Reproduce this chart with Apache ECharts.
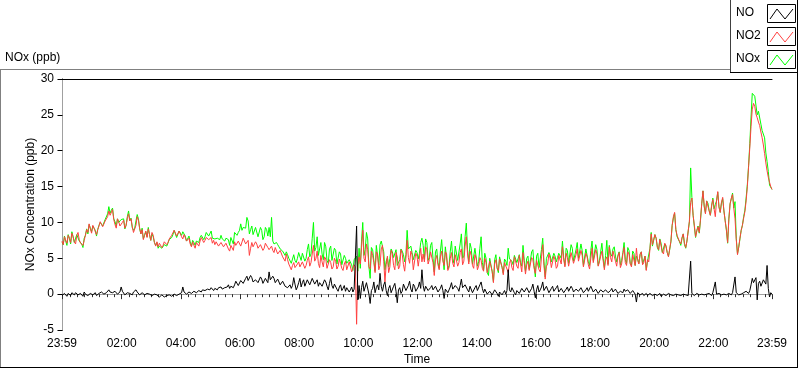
<!DOCTYPE html>
<html><head><meta charset="utf-8">
<script src="https://cdn.jsdelivr.net/npm/echarts@6/dist/echarts.min.js"></script>
<style>html,body{margin:0;padding:0;background:#fff;}#c{width:800px;height:369px;}</style>
</head><body><div id="c"></div>
<script>
// sampling grid: minutes after midnight, starting 23:59 of previous day, every 2.5 min
const START_MIN = -1, STEP_MIN = 2.5;

const NO = [
-0.2,0.0,0.1,-0.1,-0.3,0.1,0.0,-0.2,0.2,0.0,-0.1,0.2,0.1,-0.1,-0.2,0.1,0.0,-0.3,0.3,0.0,
0.1,-0.2,-0.1,0.1,0.2,-0.1,0.0,0.2,-0.2,0.0,0.1,-0.1,0.3,0.1,0.0,0.2,0.2,0.4,0.6,0.3,
0.5,0.2,0.1,0.4,0.3,0.0,-0.1,0.3,1.0,0.4,0.2,-0.1,0.0,0.2,0.4,0.1,0.1,-0.1,0.3,0.1,
0.6,0.3,0.2,-0.1,0.0,0.2,0.1,-0.1,-0.1,0.1,0.2,0.0,0.0,-0.2,-0.2,0.0,0.1,-0.1,-0.2,-0.4,
-0.3,-0.1,-0.2,-0.4,-0.4,-0.2,-0.3,-0.1,-0.2,-0.3,-0.1,0.0,0.0,-0.2,-0.2,0.0,0.1,0.2,1.0,0.3,
0.2,0.0,0.1,0.3,0.3,0.1,0.2,0.4,0.4,0.2,0.2,0.5,0.5,0.3,0.6,0.4,0.5,0.7,0.7,0.5,
0.6,0.9,0.7,0.5,0.8,0.6,0.6,0.9,0.8,1.0,0.7,0.9,0.9,0.7,1.0,1.3,0.8,1.1,1.2,0.9,
1.3,1.8,1.6,1.2,1.4,1.9,2.0,1.5,1.7,2.2,2.5,1.9,1.8,2.6,2.3,1.7,1.6,2.0,2.2,1.6,
1.7,2.4,2.1,1.5,1.6,2.2,2.0,1.6,3.1,2.0,1.8,2.5,2.2,1.6,1.5,2.1,1.9,1.3,1.4,1.8,
1.6,1.1,1.2,0.9,1.0,1.3,0.8,1.2,2.3,1.4,0.6,1.0,1.6,2.2,1.0,1.6,2.0,1.1,1.3,2.0,
1.8,1.3,1.2,2.2,2.1,1.4,1.5,2.0,1.1,1.6,1.8,1.1,1.0,2.0,1.7,1.1,0.6,1.5,2.3,1.2,
0.8,1.4,1.5,0.7,0.4,1.0,1.3,0.5,0.8,1.2,0.4,0.9,1.1,0.3,0.6,1.0,0.3,0.7,0.9,9.5,
-0.8,1.2,-0.6,0.9,1.8,0.4,0.2,1.6,1.5,0.0,-1.3,0.5,0.8,1.7,0.2,0.9,1.3,0.6,2.9,1.1,
0.4,1.3,1.7,0.5,-0.2,0.8,1.2,0.2,0.3,1.1,1.5,0.4,-1.2,0.6,0.9,0.1,0.4,1.4,1.3,0.5,
0.6,1.2,1.8,0.7,0.3,1.4,1.1,0.4,0.5,1.0,1.7,0.8,3.4,1.2,0.4,1.1,1.0,0.5,0.3,0.9,
1.2,0.6,0.5,1.1,0.9,0.3,0.2,0.8,1.3,0.5,-0.6,0.7,0.8,0.2,0.3,1.0,1.6,0.7,0.5,1.2,
1.4,0.8,0.4,1.2,2.1,0.9,0.7,1.3,1.5,0.6,0.3,1.1,1.0,0.2,0.4,0.9,1.2,0.5,0.6,1.3,
1.7,0.8,0.2,0.7,0.6,0.0,-0.2,0.4,0.5,-0.1,0.1,0.6,0.7,0.1,-0.3,0.3,0.4,-0.1,0.2,0.5,
0.0,0.5,3.4,0.6,0.3,0.9,0.8,0.2,-0.1,0.5,0.6,0.1,0.2,0.8,1.0,0.3,0.4,0.9,0.7,0.2,
0.3,0.8,1.4,0.4,-0.5,0.6,1.2,0.3,0.6,1.0,1.7,0.5,0.3,1.1,0.9,0.2,0.4,0.8,1.1,0.4,
0.5,0.9,1.2,0.3,0.4,0.8,0.9,0.2,0.2,0.7,1.0,0.4,0.5,1.1,0.8,0.3,0.3,0.7,0.9,0.4,
0.4,0.9,0.7,0.2,0.2,0.6,0.9,0.4,0.5,1.1,1.0,0.3,0.3,0.7,0.6,0.1,0.2,0.6,0.8,0.3,
0.3,0.6,0.7,0.2,0.2,0.5,0.8,0.3,0.4,0.7,0.6,0.1,0.1,0.4,0.5,0.2,0.7,0.4,0.3,0.6,
0.5,0.1,0.2,0.5,0.4,0.0,-1.1,0.2,0.1,-0.1,0.0,0.1,-0.2,0.0,0.1,-0.2,-0.1,0.1,0.0,-0.2,
-0.2,0.0,0.0,-0.2,-0.1,0.1,-0.3,-0.1,0.0,-0.2,-0.2,0.0,0.1,-0.1,-0.1,0.0,-0.2,-0.1,0.0,-0.2,
-0.1,0.0,-0.2,-0.1,0.0,-0.2,-0.1,0.0,-0.2,-0.1,4.6,0.1,0.0,-0.2,-0.1,0.1,0.1,-0.1,-0.2,0.0,
0.0,-0.1,0.1,0.0,-0.1,0.1,0.0,-0.2,0.2,0.0,1.7,0.0,-0.1,0.1,0.0,-0.1,-0.2,0.0,0.1,-0.1,
-0.1,0.1,0.0,-0.1,0.2,0.0,2.4,0.2,0.1,-0.1,-0.1,0.0,0.0,0.2,0.2,0.4,0.3,0.1,0.5,1.3,
2.2,1.6,1.4,2.3,-0.8,1.5,1.8,1.1,1.0,2.0,2.2,1.4,4.0,0.8,-0.4,0.2,0.0
];

const NO2 = [
7.4,6.9,8.0,7.5,7.1,8.2,7.8,7.2,8.5,8.0,7.3,7.0,8.2,8.6,7.6,7.1,7.0,6.8,7.5,8.2,
9.0,8.6,9.8,9.1,8.5,9.6,9.2,8.7,8.3,9.0,9.5,10.1,9.9,9.4,9.3,10.2,10.0,10.8,11.6,11.0,
11.2,11.8,10.4,9.7,9.2,10.5,10.1,9.5,9.4,10.0,10.3,9.2,9.6,10.6,11.2,10.2,10.5,9.4,8.6,9.1,
9.6,10.8,10.3,9.2,8.4,9.0,7.6,8.3,8.8,7.9,9.1,8.3,7.5,8.6,8.2,7.2,6.7,7.3,6.6,7.1,
7.0,6.5,6.8,7.3,7.5,6.9,7.2,7.7,7.8,8.2,8.4,8.9,8.7,8.1,8.3,8.8,8.6,8.0,7.7,8.3,
7.9,7.4,7.3,7.8,7.0,6.6,7.3,6.8,6.4,7.2,7.0,6.7,7.4,7.9,7.8,7.2,7.5,7.9,8.1,7.6,
7.6,7.9,7.1,7.5,6.9,7.3,7.2,6.7,6.8,7.2,7.0,6.6,6.5,7.1,6.9,6.3,6.0,6.8,6.6,6.1,
7.3,6.8,6.6,7.4,7.5,6.7,6.9,7.8,7.6,7.0,6.8,7.5,5.4,6.4,7.2,6.6,6.5,7.3,7.0,6.4,
6.2,6.9,6.8,6.1,6.4,7.1,7.0,6.5,6.2,6.0,6.7,6.1,5.8,6.5,6.3,5.6,5.5,6.1,5.9,5.2,
5.0,4.6,5.6,4.8,4.2,3.8,3.4,4.0,4.4,3.7,3.6,4.2,4.5,3.8,3.9,4.5,4.6,3.6,4.0,4.7,
5.2,3.9,4.4,5.6,6.8,4.6,5.0,6.0,4.3,3.7,5.4,4.5,3.8,5.2,4.9,3.6,3.7,4.8,4.4,3.5,
3.8,5.0,4.6,3.5,3.9,4.9,4.3,3.6,3.3,4.2,4.6,3.4,3.2,4.5,4.4,3.1,3.0,4.1,3.8,-4.2,
4.0,5.2,4.2,6.5,8.9,5.0,4.5,7.0,6.2,3.8,3.5,6.0,5.4,4.4,3.0,5.9,5.6,3.4,4.0,6.3,
6.8,4.6,1.7,4.1,5.3,3.0,3.8,6.1,5.6,4.0,3.4,5.8,5.2,3.5,3.9,6.2,5.6,4.1,3.2,5.0,
7.5,5.1,4.3,6.0,5.5,3.4,3.6,5.7,5.3,3.9,4.0,6.4,4.5,5.6,4.5,6.6,6.2,4.2,4.8,5.9,
6.0,4.4,2.6,4.8,5.4,4.1,3.4,5.2,6.0,4.6,4.0,5.9,5.6,3.3,3.7,5.0,5.8,4.3,3.8,5.5,
5.3,3.9,4.4,5.8,6.3,4.1,4.6,6.7,8.0,5.6,4.2,6.0,5.4,4.0,3.6,5.5,5.0,3.4,3.9,5.1,
4.7,3.6,3.2,5.0,4.4,3.0,2.8,4.6,4.5,3.2,1.6,4.2,4.8,3.6,3.3,4.9,5.0,3.8,2.7,4.4,
4.6,3.5,3.0,4.3,4.8,3.7,3.3,5.2,5.0,3.9,3.6,5.4,4.2,3.1,5.8,4.4,2.8,4.1,4.6,3.3,
3.4,5.1,4.8,3.6,2.9,4.7,4.5,3.4,3.1,5.2,6.9,4.0,2.1,3.9,4.2,5.6,5.0,3.7,3.6,5.3,
4.8,3.6,3.9,5.4,5.5,4.2,6.6,4.9,3.8,5.7,5.1,3.9,4.0,5.8,5.6,4.3,4.2,5.5,6.3,4.6,
4.4,6.1,5.4,3.8,4.0,5.7,5.2,4.1,3.5,5.0,6.4,4.4,4.2,6.2,5.6,3.9,4.5,5.3,6.0,4.7,
3.4,4.8,5.2,4.0,6.6,5.1,4.5,6.0,6.2,4.6,3.9,5.3,5.8,3.7,4.2,5.6,6.5,4.4,4.0,5.9,
5.6,4.2,3.8,5.5,5.3,4.0,6.4,4.7,4.2,5.6,5.9,4.1,4.4,5.3,3.3,4.8,4.5,6.3,8.4,6.9,
7.0,8.3,7.8,6.6,6.2,7.6,7.4,5.9,5.6,7.1,6.8,5.8,5.2,6.3,7.4,9.6,10.8,11.4,9.0,8.2,
8.1,7.3,7.0,7.9,8.4,7.1,6.5,7.4,7.6,10.2,12.8,13.4,11.0,9.6,8.0,8.8,9.4,8.6,10.5,12.6,
14.4,12.3,11.2,13.0,12.8,11.6,11.0,12.4,13.2,11.9,10.8,13.0,14.3,12.1,11.4,12.8,13.5,11.6,10.2,9.0,
7.2,10.4,12.6,13.4,13.9,12.0,10.5,7.6,5.5,6.6,7.8,8.9,9.6,10.6,11.5,13.0,15.0,17.8,20.5,23.4,
25.8,26.6,26.2,25.1,24.6,24.0,23.5,22.6,21.8,20.8,19.6,18.3,17.2,16.3,15.6,15.0,14.6
];

const NOX = [
7.2,6.9,8.1,7.4,6.8,8.3,7.8,7.0,8.7,8.0,7.2,7.2,8.3,8.5,7.4,7.2,7.0,6.5,7.8,8.2,
9.1,8.4,9.7,9.2,8.7,9.5,9.2,8.9,8.1,9.0,9.6,10.0,10.2,9.5,9.3,10.4,10.2,11.2,12.2,11.3,
11.7,12.0,10.5,10.1,9.5,10.5,10.0,9.8,10.4,10.4,10.5,9.1,9.6,10.8,11.6,10.3,10.6,9.3,8.9,9.2,
10.2,11.1,10.5,9.1,8.4,9.2,7.7,8.2,8.7,8.0,9.3,8.3,7.5,8.4,8.0,7.2,6.8,7.2,6.4,6.7,
6.7,6.4,6.6,6.9,7.1,6.7,6.9,7.6,7.6,7.9,8.3,8.9,8.7,7.9,8.1,8.8,9.0,8.2,8.7,8.6,
8.1,7.4,7.4,8.1,7.3,6.7,7.5,7.2,6.8,7.4,7.2,7.2,7.9,8.2,8.4,7.6,8.0,8.6,8.8,8.1,
8.2,8.8,7.8,8.0,7.7,7.9,7.8,7.6,7.6,8.2,7.7,7.5,7.4,7.8,7.9,7.6,6.8,7.9,7.8,7.0,
8.6,8.6,8.2,8.6,8.9,9.8,8.9,9.3,9.3,9.2,10.7,10.2,8.4,9.0,9.5,8.3,8.1,9.3,9.2,8.0,
7.9,9.3,8.9,7.6,8.0,9.3,9.0,8.1,9.3,8.0,10.7,7.4,7.0,6.8,7.2,6.9,6.6,6.3,6.5,6.0,
6.0,5.4,5.9,5.5,5.0,4.8,4.3,4.9,5.5,4.7,4.4,5.0,5.8,5.6,4.7,5.7,5.6,4.6,5.0,6.2,
7.0,5.2,5.6,7.8,10.0,6.0,6.5,8.0,5.4,5.3,7.2,5.6,4.8,7.2,6.6,4.7,4.3,6.3,6.7,4.7,
4.6,6.4,6.1,4.2,4.3,5.9,5.6,4.1,4.1,5.4,5.0,4.3,4.3,4.8,5.0,4.1,3.3,4.8,4.7,5.3,
3.2,6.4,3.6,7.4,10.0,5.4,6.2,8.6,7.7,3.8,2.2,6.5,6.2,6.1,3.2,6.8,6.9,4.0,6.9,7.4,
7.2,5.9,3.4,4.6,5.1,3.8,5.0,6.3,5.9,5.1,4.9,6.2,4.0,4.1,4.8,6.3,6.0,5.5,4.5,5.5,
8.9,6.3,6.1,6.7,5.8,4.8,4.7,6.1,5.8,4.9,5.7,7.2,7.8,6.8,4.9,7.7,7.2,4.7,5.1,6.8,
7.2,5.0,3.1,5.9,6.3,4.4,3.6,6.0,7.6,5.1,3.4,6.6,6.4,3.5,4.0,6.0,7.4,5.0,4.3,6.7,
6.7,4.7,4.8,7.0,8.4,5.0,5.3,8.0,9.9,6.2,4.5,7.1,6.4,4.2,4.0,6.4,6.2,3.9,4.5,6.4,
8.0,4.4,3.4,5.7,5.0,3.0,2.6,5.0,5.0,3.1,1.7,4.8,5.5,3.7,3.0,5.2,5.4,3.7,2.9,4.9,
4.6,4.0,6.4,4.9,5.1,4.6,4.1,5.4,4.9,4.4,4.2,5.5,4.4,3.9,6.8,4.7,3.2,5.0,5.3,3.5,
3.7,5.9,6.2,4.0,2.4,5.3,5.7,3.7,3.7,6.2,7.8,4.5,2.4,5.0,5.1,5.8,5.4,4.5,4.7,5.7,
5.3,4.5,5.1,5.7,5.9,5.0,7.4,5.1,4.0,6.4,6.1,4.3,4.5,6.9,6.4,4.6,4.5,6.2,7.2,5.0,
4.8,7.0,6.1,4.0,4.2,6.3,6.1,4.5,4.0,6.1,7.4,4.7,4.5,6.9,6.2,4.0,4.7,5.9,7.1,5.0,
3.7,5.4,7.5,4.2,6.8,5.6,5.3,6.3,6.6,5.3,4.5,5.4,5.9,4.1,4.7,5.8,7.2,4.8,4.3,6.5,
6.1,4.3,4.0,6.0,5.7,4.0,5.3,4.9,4.3,5.5,5.9,4.2,4.2,5.3,3.4,4.6,4.4,6.4,8.6,6.7,
6.8,8.3,7.8,6.5,6.1,7.7,7.1,5.8,5.6,7.0,6.6,5.8,5.3,6.2,7.3,9.6,10.6,11.3,9.0,8.0,
8.0,7.3,6.8,7.8,8.4,6.9,6.4,7.4,7.4,10.1,17.6,13.5,11.0,9.4,7.9,8.9,9.5,8.5,10.3,12.6,
14.4,12.2,11.3,13.0,12.7,11.7,11.0,12.2,13.4,11.9,12.5,13.0,14.2,12.2,11.4,12.7,13.3,11.6,10.3,8.9,
7.1,10.5,12.6,13.3,14.1,12.0,12.9,7.8,5.6,6.5,7.7,8.9,9.6,10.8,11.7,13.4,15.3,17.9,21.0,24.7,
28.0,28.2,27.6,27.4,25.0,25.5,25.3,23.7,22.8,22.8,21.8,19.7,18.5,17.1,15.2,15.2,14.6
];

const TICK_MIN = [-1,120,240,360,480,600,720,840,960,1080,1200,1320,1439];
const TICK_LABELS = ['23:59','02:00','04:00','06:00','08:00','10:00','12:00','14:00','16:00','18:00','20:00','22:00','23:59'];
const MINOR_MIN = [];
for (let m = 15; m < 1439; m += 15) MINOR_MIN.push(m);

const SERIES_NAMES = ['NO','NO2','NOx'];
const SERIES_COLORS = ['#000000','#ff4040','#00ff00'];

const toPts = arr => arr.map((v,i) => [START_MIN + STEP_MIN*i, v]);
const FONT = 'Liberation Sans';

const chart = echarts.init(document.getElementById('c'), null, {renderer:'canvas'});

function legendGraphics(){
  const g = [];
  const boxTops = [4, 27, 50];
  SERIES_NAMES.forEach((n,i)=>{
    const y0 = boxTops[i];
    g.push({type:'text', left:736, top:y0+3, style:{text:n, font:'12px '+FONT, fill:'#000'}});
    g.push({type:'rect', shape:{x:767.5,y:y0+0.5,width:28,height:18}, style:{fill:'#fff', stroke:'#000', lineWidth:1}});
    g.push({type:'polyline', shape:{points:[[770,y0+15],[777,y0+5],[785,y0+15],[793,y0+5]]}, style:{stroke:SERIES_COLORS[i], lineWidth:1, fill:null}});
  });
  return g;
}

const option = {
  animation:false,
  backgroundColor:'#fff',
  grid:{left:62, right:28, top:79, bottom:39, containLabel:false, outerBoundsMode:'none'},
  xAxis:[
    {type:'value', position:'bottom', min:-1, max:1439,
     name:'Time', nameLocation:'middle', nameGap:24, nameMoveOverlap:false,
     nameTextStyle:{color:'#000', fontFamily:FONT, fontSize:12},
     axisLine:{show:true, lineStyle:{color:'#a0a0a0', width:1}},
     axisTick:{show:true, customValues:TICK_MIN, length:5, inside:false, lineStyle:{color:'#303030'}},
     axisLabel:{show:true, customValues:TICK_MIN, margin:8, color:'#000', fontFamily:FONT, fontSize:12,
       formatter:v=>{const i=TICK_MIN.indexOf(v); return i>=0?TICK_LABELS[i]:'';}},
     splitLine:{show:false}},
    {type:'value', position:'bottom', min:-1, max:1439,
     axisLine:{show:false},
     axisTick:{show:true, customValues:MINOR_MIN, length:3, inside:false, lineStyle:{color:'#303030'}},
     axisLabel:{show:false}, splitLine:{show:false}},
    {type:'value', position:'top', min:-1, max:1439,
     axisLine:{show:true, lineStyle:{color:'#000', width:1}},
     axisTick:{show:false}, axisLabel:{show:false}, splitLine:{show:false}}
  ],
  yAxis:[
    {type:'value', position:'left', min:-5, max:30, interval:5,
     name:'NOx Concentration (ppb)', nameLocation:'middle', nameGap:25, nameMoveOverlap:false,
     nameTextStyle:{color:'#000', fontFamily:FONT, fontSize:12},
     axisLine:{show:true, lineStyle:{color:'#000', width:1}},
     axisTick:{show:true, length:5, inside:false, lineStyle:{color:'#000'}},
     axisLabel:{margin:8, color:'#000', fontFamily:FONT, fontSize:12},
     splitLine:{show:false}},
    {type:'value', position:'right', min:-5, max:30, interval:5,
     axisLine:{show:true, lineStyle:{color:'#a0a0a0', width:1}},
     axisTick:{show:false}, axisLabel:{show:false}, splitLine:{show:false}}
  ],
  series:[
    {name:'NOx', type:'line', data:toPts(NOX), showSymbol:false, symbol:'none', z:2,
     lineStyle:{color:SERIES_COLORS[2], width:1}, itemStyle:{color:SERIES_COLORS[2]}},
    {name:'NO2', type:'line', data:toPts(NO2), showSymbol:false, symbol:'none', z:3,
     lineStyle:{color:SERIES_COLORS[1], width:1}, itemStyle:{color:SERIES_COLORS[1]}},
    {name:'NO', type:'line', data:toPts(NO), showSymbol:false, symbol:'none', z:4,
     lineStyle:{color:SERIES_COLORS[0], width:1}, itemStyle:{color:SERIES_COLORS[0]}}
  ],
  graphic:[
    {type:'text', left:5, top:52, style:{text:'NOx (ppb)', font:'12px '+FONT, fill:'#000'}},
    {type:'line', shape:{x1:0,y1:69.5,x2:730,y2:69.5}, style:{stroke:'#808080', lineWidth:1}},
    {type:'line', shape:{x1:0.5,y1:69.5,x2:0.5,y2:368}, style:{stroke:'#808080', lineWidth:1}},
    {type:'line', shape:{x1:0,y1:367.5,x2:798,y2:367.5}, style:{stroke:'#000', lineWidth:1}},
    {type:'line', shape:{x1:797.5,y1:0,x2:797.5,y2:368}, style:{stroke:'#000', lineWidth:1}},
    {type:'line', shape:{x1:730.5,y1:0,x2:730.5,y2:72}, style:{stroke:'#404040', lineWidth:1}},
    {type:'line', shape:{x1:730,y1:72.5,x2:798,y2:72.5}, style:{stroke:'#000', lineWidth:1}}
  ].concat(legendGraphics())
};
chart.setOption(option);
</script>
</body></html>
